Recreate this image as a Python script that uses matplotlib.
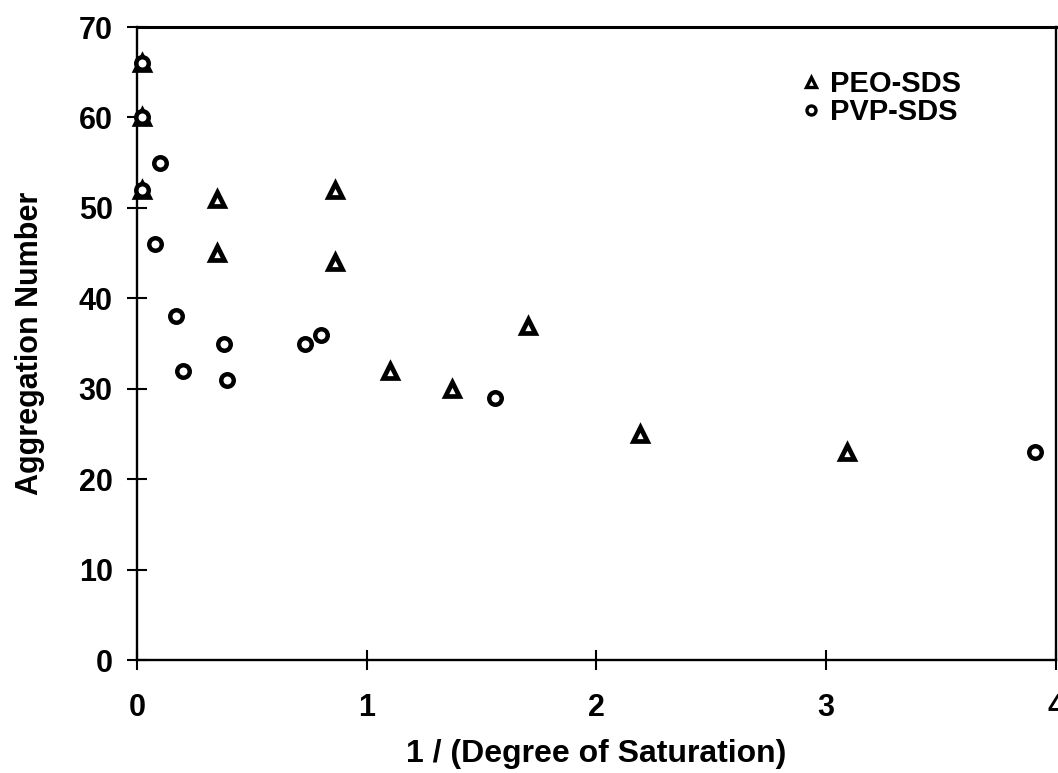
import matplotlib
matplotlib.use("Agg")
import matplotlib.pyplot as plt

plt.rcParams['font.family'] = ['Liberation Sans', 'DejaVu Sans']
plt.rcParams['font.weight'] = 'bold'

# PEO-SDS complexes
peo_x = [0.02, 0.02, 0.02, 0.35, 0.35, 0.86, 0.86, 1.10, 1.37, 1.70, 2.19, 3.09]
peo_y = [66, 60, 52, 51, 45, 52, 44, 32, 30, 37, 25, 23]

# PVP-SDS complexes
pvp_x = [0.02, 0.02, 0.02, 0.10, 0.08, 0.17, 0.20, 0.38, 0.39, 0.73, 0.80, 1.56, 3.91]
pvp_y = [66, 60, 52, 55, 46, 38, 32, 35, 31, 35, 36, 29, 23]

x_ticks = [0, 1, 2, 3, 4]
y_ticks = [0, 10, 20, 30, 40, 50, 60, 70]

fig = plt.figure(figsize=(10.58, 7.73), dpi=100)
ax = fig.add_axes([0.1295, 0.146, 0.8685, 0.819])

ax.plot(peo_x, peo_y, linestyle='none', marker='^', markersize=10,
        markerfacecolor='white', markeredgecolor='black', markeredgewidth=3.4,
        label='PEO-SDS', clip_on=False)
ax.plot(pvp_x, pvp_y, linestyle='none', marker='o', markersize=9,
        markerfacecolor='white', markeredgecolor='black', markeredgewidth=3.2,
        label='PVP-SDS', clip_on=False)

ax.set_xlim(0, 4)
ax.set_ylim(0, 70)
ax.set_xticks(x_ticks)
ax.set_yticks(y_ticks)
ax.tick_params(axis='both', direction='inout', length=15, width=1.5,
               labelsize=22, colors='black')
ax.tick_params(axis='x', pad=16)
ax.tick_params(axis='y', pad=10)
for lab in ax.get_xticklabels() + ax.get_yticklabels():
    lab.set_fontweight('bold')

for side in ['left', 'bottom', 'right']:
    ax.spines[side].set_linewidth(1.7)
    ax.spines[side].set_color('black')
ax.spines['top'].set_linewidth(2.2)

ax.set_xlabel('1 / (Degree of Saturation)', fontsize=23, fontweight='bold',
              labelpad=12)
ax.set_ylabel('Aggregation Number', fontsize=22, fontweight='bold',
              labelpad=24)

leg = ax.legend(loc='upper left', bbox_to_anchor=(0.724, 0.932),
                borderaxespad=0, borderpad=0, frameon=False,
                fontsize=21, handlelength=0.6, handletextpad=0.35,
                labelspacing=0.0)
for t in leg.get_texts():
    t.set_fontweight('bold')
for h in leg.legend_handles:
    h.set_markersize(6.5)
    h.set_markeredgewidth(2.4)

fig.savefig('out.png', dpi=100, facecolor='white')
